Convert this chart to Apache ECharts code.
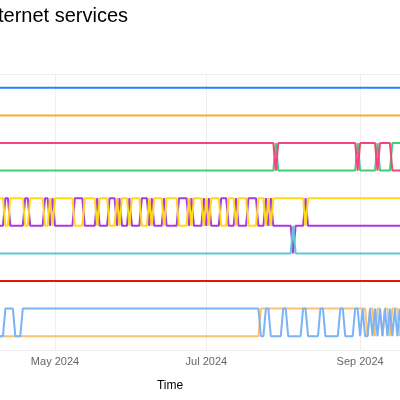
<!DOCTYPE html>
<html>
<head>
<meta charset="utf-8">
<script src="https://cdn.jsdelivr.net/npm/echarts@6/dist/echarts.min.js"></script>
<style>html,body{margin:0;padding:0;background:#fff}#chart{width:400px;height:400px}</style>
</head>
<body>
<div id="chart"></div>
<script>
// Daily ranks from 2024-04-08 onward, one character per day ('0' means rank 10), grouped in tens.
var startDate = '2024-04-08';
var tickDates = ['2024-05-01', '2024-07-01', '2024-09-01'];
var seriesNames = ['Service 1', 'Service 2', 'Service 3', 'Service 4', 'Service 5', 'Service 6', 'Service 7', 'Service 8', 'Service 9', 'Service 10'];
var seriesColors = ['#2a7ff7', '#f7a933', '#3dcf72', '#f0457e', '#a93ae0', '#ffd81a', '#62c6da', '#e3140f', '#fbc274', '#7cb2f6'];

var rankS1 = '1111111111 1111111111 1111111111 1111111111 1111111111 1111111111 1111111111 1111111111 1111111111 1111111111 1111111111 1111111111 1111111111 1111111111 1111111111 1111111111 1111';
var rankS2 = '2222222222 2222222222 2222222222 2222222222 2222222222 2222222222 2222222222 2222222222 2222222222 2222222222 2222222222 2222222222 2222222222 2222222222 2222222222 2222222222 2222';
var rankS3 = '4444444444 4444444444 4444444444 4444444444 4444444444 4444444444 4444444444 4444444444 4444444444 4444444444 4444444444 4434444444 4444444444 4444444444 4444434444 4443444443 3333';
var rankS4 = '3333333333 3333333333 3333333333 3333333333 3333333333 3333333333 3333333333 3333333333 3333333333 3333333333 3333333333 3343333333 3333333333 3333333333 3333343333 3334333334 4444';
var rankS5 = '6665566666 6556666665 5656666666 6555566666 5666655565 6665666655 5656666566 6665555656 6665656666 5556665666 6555566656 5666666667 6666566666 6666666666 6666666666 6666666666 6666';
var rankS6 = '5556655555 5665555556 6565555555 5666655555 6555566656 5556555566 6565555655 5556666565 5556565555 6665556555 5666655565 6555555555 5555655555 5555555555 5555555555 5555555555 5555';
var rankS7 = '7777777777 7777777777 7777777777 7777777777 7777777777 7777777777 7777777777 7777777777 7777777777 7777777777 7777777777 7777777776 7777777777 7777777777 7777777777 7777777777 7777';
var rankS8 = '8888888888 8888888888 8888888888 8888888888 8888888888 8888888888 8888888888 8888888888 8888888888 8888888888 8888888888 8888888888 8888888888 8888888888 8888888888 8888888888 8888';
var rankS9 = '0000000000 0000000000 0000000000 0000000000 0000000000 0000000000 0000000000 0000000000 0000000000 0000000000 0000009999 9999999999 9999999999 9999999999 9999999990 9909909909 9909';
var rankS10 = '0009999000 9999999999 9999999999 9999999999 9999999999 9999999999 9999999999 9999999999 9999999999 9999999999 9999990099 0000099000 0009900000 9900000099 0000990900 9090909090 9090';

var rankStrings = [rankS1, rankS2, rankS3, rankS4, rankS5, rankS6, rankS7, rankS8, rankS9, rankS10];

function parseRanks(s) {
  return s.replace(/\s/g, '').split('').map(function (c) { return c === '0' ? 10 : Number(c); });
}
var DAY = 86400000;
var t0 = new Date(startDate + 'T00:00:00').getTime();
function dayTime(i) { return t0 + i * DAY; }

var series = rankStrings.map(function (s, k) {
  var ranks = parseRanks(s);
  return {
    name: seriesNames[k],
    type: 'line',
    showSymbol: false,
    symbol: 'none',
    animation: false,
    lineStyle: { width: 2, color: seriesColors[k] },
    itemStyle: { color: seriesColors[k] },
    data: ranks.map(function (r, i) { return [dayTime(i), r]; })
  };
});

var tickValues = tickDates.map(function (d) { return new Date(d + 'T00:00:00').getTime(); });
var may1 = tickValues[0];

var chart = echarts.init(document.getElementById('chart'), null, { renderer: 'canvas' });
chart.setOption({
  animation: false,
  backgroundColor: '#ffffff',
  title: {
    text: 'Popularity of internet services',
    right: 272,
    top: 6,
    padding: 0,
    textStyle: { fontFamily: '"Liberation Sans", Arial, sans-serif', fontSize: 20, fontWeight: 'normal', color: '#000' }
  },
  grid: { left: -70, right: -10, top: 74, bottom: 50, containLabel: false, outerBoundsMode: 'none' },
  xAxis: {
    type: 'time',
    min: may1 - 50.4 * DAY,
    max: may1 + 143.1 * DAY,
    name: 'Time',
    nameLocation: 'middle',
    nameGap: 30,
    nameTextStyle: { fontFamily: '"Liberation Sans", Arial, sans-serif', fontSize: 12, color: '#000' },
    axisLine: { show: false },
    axisTick: { show: false, customValues: tickValues },
    splitLine: { show: true, lineStyle: { color: '#efefef', width: 1 } },
    axisLabel: {
      customValues: tickValues,
      formatter: '{MMM} {yyyy}',
      color: '#666',
      fontSize: 11,
      margin: 6,
      fontFamily: '"Liberation Sans", Arial, sans-serif',
      hideOverlap: false
    }
  },
  yAxis: {
    type: 'value',
    inverse: true,
    min: 0.5,
    max: 10.5,
    interval: 10,
    axisLine: { show: false },
    axisTick: { show: false },
    axisLabel: { show: false },
    splitLine: { show: true, lineStyle: { color: '#efefef', width: 1 } }
  },
  series: series
});
</script>
</body>
</html>
